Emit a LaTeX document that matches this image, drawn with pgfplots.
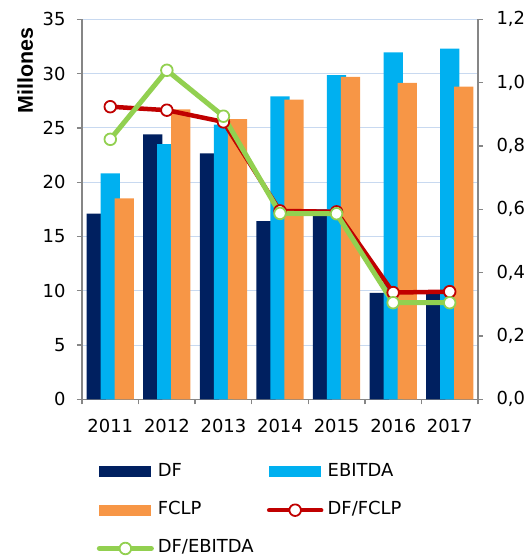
\documentclass[border=0pt]{standalone}
\usepackage{fontspec}
\setmainfont{DejaVu Sans}
\newfontfamily\labfont{Liberation Sans}
\usepackage{pgfplots}
\usepackage{pgfplotstable}
\pgfplotsset{compat=1.18}
\definecolor{cDF}{RGB}{0,32,96}
\definecolor{cEB}{RGB}{0,176,240}
\definecolor{cFC}{RGB}{247,150,70}
\definecolor{cR}{RGB}{192,0,0}
\definecolor{cG}{RGB}{146,208,80}
\definecolor{cGrid}{RGB}{200,217,240}
\definecolor{cAx}{RGB}{134,134,134}
\pgfplotstableread{
x df eb fc r g
0 17.1 20.8 18.5 0.924 0.821
1 24.4 23.5 26.7 0.913 1.039
2 22.65 25.3 25.8 0.876 0.894
3 16.4 27.9 27.6 0.595 0.587
4 17.5 29.85 29.7 0.592 0.586
5 9.8 31.95 29.15 0.337 0.305
6 9.8 32.3 28.8 0.340 0.305
}\data
\pgfplotsset{base/.style={scale only axis, width=396bp, height=380bp,
  xmin=-0.5, xmax=6.5, at={(82bp,-399.3bp)}, anchor=south west,
  axis line style={-, cAx, line width=1.3bp},
  tick style={cAx, line width=1.3bp}, tick align=outside, major tick length=5bp,
  tick label style={font=\fontsize{18}{21}\selectfont},
  /pgf/number format/assume math mode=true}}
\begin{document}
\begin{tikzpicture}
\path[use as bounding box] (0,0) rectangle (532bp,-556bp);
\begin{axis}[base, ymin=0, ymax=35, ytick={0,5,10,15,20,25,30,35},
  axis x line*=bottom, axis y line*=left,
  xtick={-0.5,0.5,1.5,2.5,3.5,4.5,5.5,6.5}, x tick label as interval,
  xticklabels={2011,2012,2013,2014,2015,2016,2017},
  xticklabel style={yshift=-11bp}, yticklabel style={xshift=-8bp},
  ymajorgrids, grid style={cGrid, line width=1bp},
  ylabel={Millones},
  ylabel style={at={(axis description cs:-0.1434,0.978)}, anchor=east, inner sep=0pt, font=\labfont\bfseries\fontsize{21.5}{24}\selectfont}]
\addplot[ybar, bar width=0.34, bar shift=-0.2475, fill=cDF, draw=none] table[x=x,y=df]{\data};
\addplot[ybar, bar width=0.34, bar shift=0, fill=cEB, draw=none] table[x=x,y=eb]{\data};
\addplot[ybar, bar width=0.34, bar shift=0.2475, fill=cFC, draw=none] table[x=x,y=fc]{\data};
\end{axis}
\begin{axis}[base, ymin=0, ymax=1.2, ytick={0,0.2,0.4,0.6,0.8,1,1.2},
  axis y line*=right, axis x line=none,
  yticklabel style={xshift=10bp, /pgf/number format/.cd, fixed, fixed zerofill, precision=1, use comma},
  legend columns=2,
  legend image code/.code={\draw[#1, mark repeat=2, mark phase=2] plot coordinates {(0bp,0bp) (26bp,0bp) (52bp,0bp)};},
  legend style={draw=none, fill=none, at={(axis description cs:0.030,-0.166)}, anchor=north west,
    inner sep=0pt, outer sep=0pt, font=\fontsize{18}{21}\selectfont,
    nodes={inner sep=1bp, text height=13bp, text depth=4bp}, row sep=19.3bp,
    /tikz/every even column/.append style={column sep=9bp}},
  legend cell align=left]
\addlegendimage{cDF, line width=11bp}
\addlegendimage{cEB, line width=11bp}
\addlegendimage{cFC, line width=11bp}
\addplot[cR, line width=4.5bp, line join=round, line cap=round, mark=*, mark size=5.8bp, mark options={fill=white, draw=cR, line width=1.8bp}] table[x=x,y=r]{\data};
\addplot[cG, line width=5bp, line join=round, line cap=round, mark=*, mark size=5.8bp, mark options={fill=white, draw=cG, line width=1.8bp}] table[x=x,y=g]{\data};
\legend{DF,EBITDA,FCLP,DF/FCLP,DF/EBITDA}
\end{axis}
\end{tikzpicture}
\end{document}
